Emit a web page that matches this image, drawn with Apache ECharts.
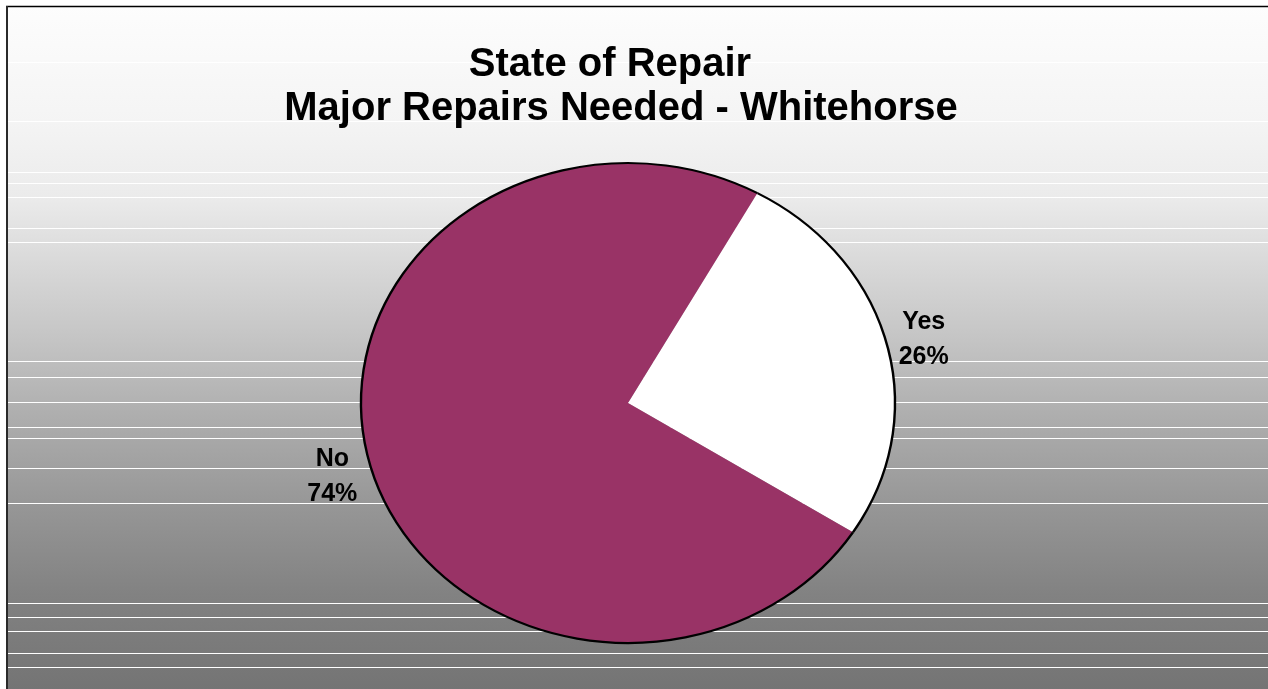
<!DOCTYPE html>
<html>
<head>
<meta charset="utf-8">
<title>State of Repair - Major Repairs Needed - Whitehorse</title>
<script src="https://cdn.jsdelivr.net/npm/echarts@6.0.0/dist/echarts.min.js"></script>
<style>
  html, body { margin: 0; padding: 0; background: #ffffff; }
  #chart { width: 1268px; height: 689px; }
</style>
</head>
<body>
<div id="chart"></div>
<script>
// Survey answers: share of dwellings needing major repairs
const categories = ['Yes', 'No'];
const shares = [26, 74];
const sliceColors = ['#ffffff', '#993366'];
const titleLines = ['State of Repair', 'Major Repairs Needed - Whitehorse'];

// Faint light streaks across the shaded backdrop (pixel rows)
const streakRows = [62, 121, 172, 183, 197, 228, 242, 361, 377, 402, 427, 438, 468, 503, 603, 617, 631, 653, 667];

const W = 1268, H = 689;
const PIE = { cx: 628, cy: 403, rx: 267, ry: 240, firstAngle: 29, labelGap: 38, labelDy: 5 };
const FONT = 'Liberation Sans, Arial, sans-serif';

const chart = echarts.init(document.getElementById('chart'), null, { renderer: 'canvas', width: W, height: H });

const total = shares.reduce((a, b) => a + b, 0);

function renderSlice(params, api) {
  const i = params.dataIndex;
  const before = shares.slice(0, i).reduce((a, b) => a + b, 0);
  const v = api.value(0);
  // angles measured clockwise from 12 o'clock
  const a0 = PIE.firstAngle + before / total * 360;
  const a1 = a0 + v / total * 360;
  const mid = (a0 + a1) / 2 * Math.PI / 180;
  const toRad = a => (a - 90) * Math.PI / 180;
  const sy = PIE.ry / PIE.rx;
  const pct = Math.round(v / total * 100);
  return {
    type: 'group',
    children: [
      {
        type: 'sector',
        shape: { cx: PIE.cx, cy: PIE.cy, r0: 0, r: PIE.rx, startAngle: toRad(a0), endAngle: toRad(a1), clockwise: true },
        originX: PIE.cx, originY: PIE.cy, scaleY: sy,
        style: { fill: sliceColors[i], stroke: null }
      },
      {
        type: 'arc',
        shape: { cx: PIE.cx, cy: PIE.cy, r: PIE.rx, startAngle: toRad(a0), endAngle: toRad(a1), clockwise: true },
        originX: PIE.cx, originY: PIE.cy, scaleY: sy,
        style: { fill: null, stroke: '#000000', lineWidth: 2.4 }
      },
      {
        type: 'text',
        x: PIE.cx + (PIE.rx + PIE.labelGap) * Math.sin(mid),
        y: PIE.cy - (PIE.ry + PIE.labelGap) * Math.cos(mid) + PIE.labelDy,
        style: {
          text: categories[i] + '\n' + pct + '%',
          fill: '#000000',
          fontSize: 25,
          fontWeight: 'bold',
          fontFamily: FONT,
          lineHeight: 35,
          align: 'center',
          verticalAlign: 'middle'
        }
      }
    ]
  };
}

const backdrop = [
  { type: 'rect', shape: { x: 0, y: 0, width: W, height: H }, style: { fill: '#ffffff' }, z: 0, silent: true },
  {
    type: 'rect', shape: { x: 7, y: 6, width: W - 7, height: H - 6 }, z: 0, silent: true,
    style: {
      fill: {
        type: 'linear', x: 0, y: 0, x2: 0, y2: 1,
        colorStops: [
          { offset: 0.00, color: '#fdfdfd' },
          { offset: 0.17, color: '#f4f4f4' },
          { offset: 0.28, color: '#ebebeb' },
          { offset: 0.38, color: '#d8d8d8' },
          { offset: 0.48, color: '#c6c6c6' },
          { offset: 0.60, color: '#aeaeae' },
          { offset: 0.74, color: '#959595' },
          { offset: 0.86, color: '#828282' },
          { offset: 1.00, color: '#747474' }
        ]
      }
    }
  }
];
streakRows.forEach(y => {
  backdrop.push({
    type: 'line', z: 1, silent: true,
    shape: { x1: 8, y1: y + 0.5, x2: W, y2: y + 0.5 },
    style: { stroke: '#ffffff', lineWidth: 1 }
  });
});
// frame edges
backdrop.push({ type: 'line', z: 3, silent: true, shape: { x1: 6, y1: 6.5, x2: W, y2: 6.5 }, style: { stroke: '#000000', lineWidth: 1.5 } });
backdrop.push({ type: 'line', z: 3, silent: true, shape: { x1: 7, y1: 6, x2: 7, y2: H }, style: { stroke: '#2a2a2a', lineWidth: 2 } });
// chart title
backdrop.push({
  type: 'text', z: 3, x: 610, y: 65,
  style: { text: titleLines[0], fill: '#000000', fontSize: 40, fontWeight: 'bold', fontFamily: FONT, align: 'center', verticalAlign: 'middle' }
});
backdrop.push({
  type: 'text', z: 3, x: 621, y: 109,
  style: { text: titleLines[1], fill: '#000000', fontSize: 40, fontWeight: 'bold', fontFamily: FONT, align: 'center', verticalAlign: 'middle' }
});

chart.setOption({
  animation: false,
  graphic: { elements: backdrop },
  series: [{
    type: 'custom',
    coordinateSystem: 'none',
    z: 2,
    silent: true,
    renderItem: renderSlice,
    data: shares.map((v, i) => ({ name: categories[i], value: [v] }))
  }]
});
</script>
</body>
</html>
